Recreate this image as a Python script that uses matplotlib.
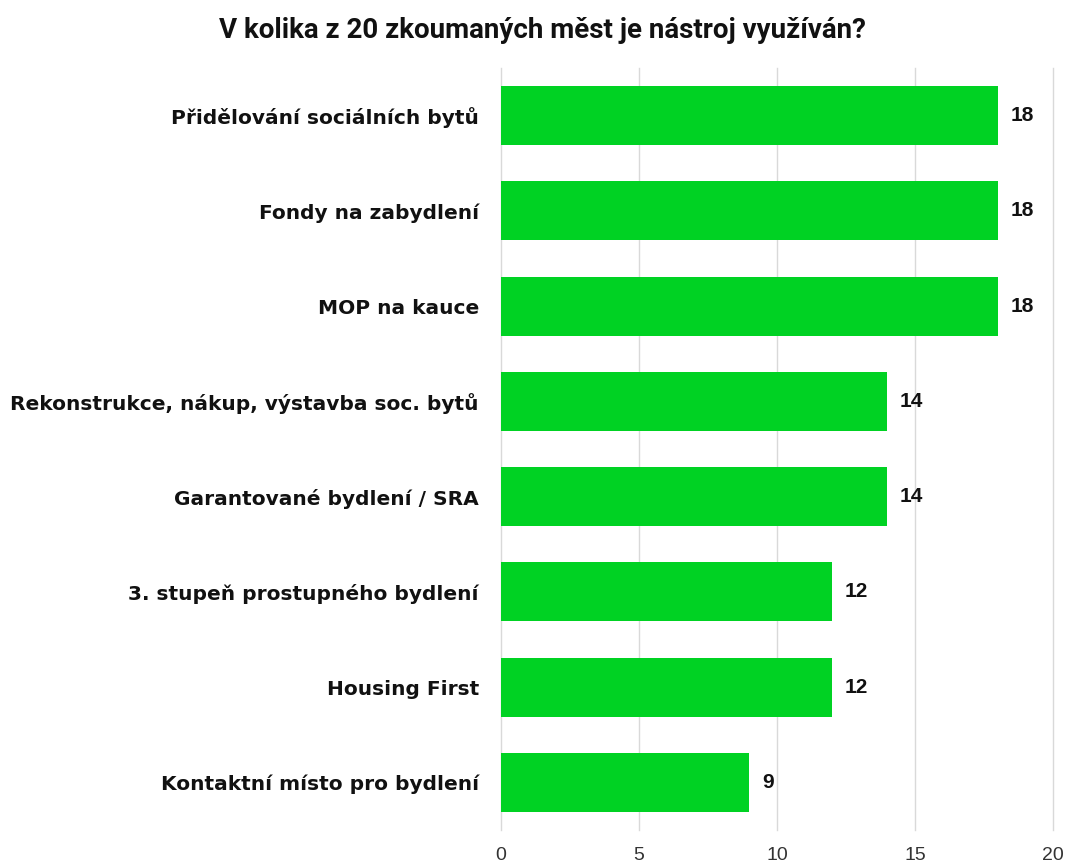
import matplotlib
matplotlib.use("Agg")
from matplotlib import pyplot as plt

# data
categories = ["Přidělování sociálních bytů", "Fondy na zabydlení", "MOP na kauce",
              "Rekonstrukce, nákup, výstavba soc. bytů", "Garantované bydlení / SRA",
              "3. stupeň prostupného bydlení", "Housing First", "Kontaktní místo pro bydlení"]
counts = [18, 18, 18, 14, 14, 12, 12, 9]
xticks = [0, 5, 10, 15, 20]

plt.rcParams['font.family'] = ['Liberation Sans', 'DejaVu Sans']

fig = plt.figure(figsize=(10.69, 8.66), dpi=100)
ax = fig.add_axes([0.4687, 0.0416, 0.5163, 0.88])

pos = list(range(len(categories)))
ax.barh(pos, counts, height=0.62, color="#00d223", zorder=3)
for p, c in zip(pos, counts):
    ax.text(c + 0.45, p, str(c), va="center", ha="left", fontsize=15,
            fontweight="bold", color="#111111")

ax.set_xlim(0, 20)
ax.set_ylim(len(categories) - 0.5, -0.5)
ax.set_xticks(xticks)
ax.set_yticks(pos)
ax.set_yticklabels(categories, fontsize=14.5, fontweight="bold", color="#111111",
                   family=["DejaVu Sans"])
ax.tick_params(axis="y", length=0, pad=16)
ax.tick_params(axis="x", length=0, pad=12, labelsize=14, labelcolor="#333333")
ax.grid(axis="x", color="#d9d9d9", linewidth=1, zorder=0)
for gl in ax.get_xgridlines():
    gl.set_clip_on(False)
for s in ax.spines.values():
    s.set_visible(False)

fig.text(0.507, 0.965, "V kolika z 20 zkoumaných měst je nástroj využíván?",
         ha="center", va="center", fontsize=20, fontweight="bold", color="#111111",
         family=["Roboto", "DejaVu Sans"])

fig.savefig("out.png", dpi=100)
